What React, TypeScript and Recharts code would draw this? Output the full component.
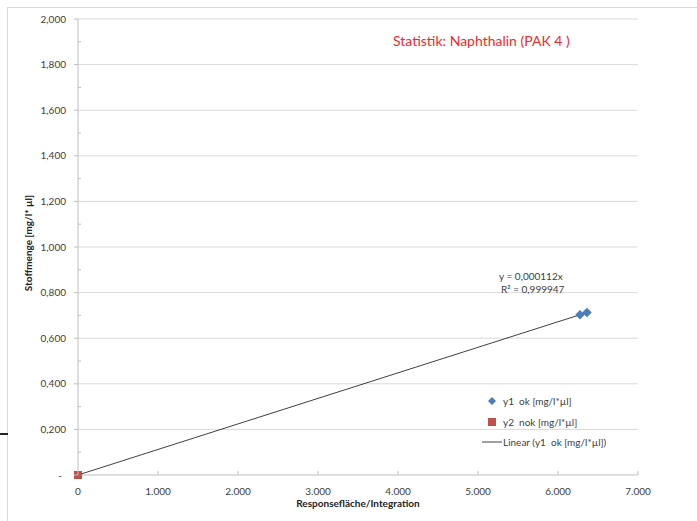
import React from 'react'
import { ScatterChart, Scatter, XAxis, YAxis, ReferenceLine, Legend } from 'recharts'

// values
const okX = [6275, 6362]
const okY = [0.703, 0.713]
const nokX = [0]
const nokY = [0]
const trendX = [0, 6362]
const trendY = [0, 0.7126]

const xTicks = [0, 1000, 2000, 3000, 4000, 5000, 6000, 7000]
const xTickLabels = ['0', '1.000', '2.000', '3.000', '4.000', '5.000', '6.000', '7.000']
const yMajorTicks = [0, 0.2, 0.4, 0.6, 0.8, 1.0, 1.2, 1.4, 1.6, 1.8, 2.0]
const yMinorTicks = [0.1, 0.3, 0.5, 0.7, 0.9, 1.1, 1.3, 1.5, 1.7, 1.9]
const yTickLabels = ['-', '0,200', '0,400', '0,600', '0,800', '1,000', '1,200', '1,400', '1,600', '1,800', '2,000']

const seriesNames = ['y1  ok [mg/l*µl]', 'y2  nok [mg/l*µl]', 'Linear (y1  ok [mg/l*µl])']

const okData = okX.map((x, i) => ({ x, y: okY[i] }))
const nokData = nokX.map((x, i) => ({ x, y: nokY[i] }))
const trendData = trendX.map((x, i) => ({ x, y: trendY[i] }))
const yTicks = [...yMajorTicks, ...yMinorTicks].sort((a, b) => a - b)

const BLUE = '#4a7ebb'
const RED = '#c0504d'
const GRID = '#d9d9d9'
const AXIS = '#bfbfbf'
const TEXT = '#404040'
const FONT = 'Lato, "Open Sans", sans-serif'

const Diamond = (props: any) => {
  const { cx, cy } = props
  const r = 4.8
  return <polygon points={`${cx},${cy - r} ${cx + r},${cy} ${cx},${cy + r} ${cx - r},${cy}`} fill={BLUE} />
}

const Square = (props: any) => {
  const { cx, cy } = props
  return <rect x={cx - 4} y={cy - 4} width={8} height={8} fill={RED} />
}

const NoShape = () => <g />

const YTick = (props: any) => {
  const { x, y, payload } = props
  const idx = yMajorTicks.findIndex((v) => Math.abs(v - payload.value) < 1e-9)
  if (idx < 0) {
    return <line x1={x} x2={x + 3} y1={y} y2={y} stroke={AXIS} />
  }
  return (
    <g>
      <line x1={x - 4} x2={x} y1={y} y2={y} stroke={AXIS} />
      <text
        x={idx === 0 ? x - 16 : x - 12}
        y={y}
        dy={3.5}
        textAnchor="end"
        fontSize={10}
        fill={TEXT}
        fontFamily={FONT}
      >
        {yTickLabels[idx]}
      </text>
    </g>
  )
}

const XTick = (props: any) => {
  const { x, y, payload } = props
  const idx = xTicks.indexOf(payload.value)
  return (
    <g>
      <line x1={x} x2={x} y1={y - 4} y2={y} stroke={AXIS} />
      <text x={x} y={y + 20} textAnchor="middle" fontSize={10} fill={TEXT} fontFamily={FONT}>
        {xTickLabels[idx]}
      </text>
    </g>
  )
}

const renderLegend = (props: any) => {
  const { payload = [] } = props
  const items = [...payload].sort((a: any, b: any) => seriesNames.indexOf(a.value) - seriesNames.indexOf(b.value))
  return (
    <div style={{ fontFamily: FONT, fontSize: 10, color: TEXT }}>
      {items.map((entry: any, i: number) => (
        <div key={i} style={{ display: 'flex', alignItems: 'center', height: 20.5 }}>
          <svg width={28} height={10} style={{ marginRight: 1 }}>
            {entry.type === 'diamond' && <polygon points="18,1 22,5 18,9 14,5" fill={BLUE} />}
            {entry.type === 'square' && <rect x={14} y={1} width={8} height={8} fill={RED} />}
            {entry.type === 'line' && <line x1={8} x2={28} y1={5} y2={5} stroke={TEXT} strokeWidth={1} />}
          </svg>
          <span style={{ whiteSpace: 'pre' }}>{entry.value}</span>
        </div>
      ))}
    </div>
  )
}

export default function App() {
  return (
    <div
      style={{
        position: 'absolute',
        left: 0,
        top: 0,
        width: 697,
        height: 521,
        background: '#fff',
        fontFamily: FONT,
        overflow: 'hidden',
      }}
    >
      <div
        style={{
          position: 'absolute',
          left: 7,
          top: 7,
          right: 0,
          bottom: 0,
          borderLeft: `1px solid ${GRID}`,
          borderTop: `1px solid ${GRID}`,
        }}
      />
      <div style={{ position: 'absolute', left: 0, top: 433, width: 8, height: 2, background: '#222' }} />

      <div style={{ position: 'absolute', left: 0, top: 0 }}>
        <ScatterChart width={697} height={521} margin={{ top: 19, right: 59, bottom: 16, left: 18 }}>
          <XAxis
            type="number"
            dataKey="x"
            domain={[0, 7000]}
            ticks={xTicks}
            interval={0}
            height={30}
            tickSize={0}
            tickMargin={0}
            tick={<XTick />}
            axisLine={{ stroke: AXIS }}
          />
          <YAxis
            type="number"
            dataKey="y"
            domain={[0, 2]}
            ticks={yTicks}
            interval={0}
            width={60}
            tickSize={0}
            tickMargin={0}
            tick={<YTick />}
            axisLine={{ stroke: AXIS }}
          />
          {yMajorTicks.slice(1).map((v) => (
            <ReferenceLine key={v} y={v} stroke={GRID} strokeWidth={1} />
          ))}
          <Scatter
            name={seriesNames[2]}
            data={trendData}
            fill={TEXT}
            line={{ stroke: TEXT, strokeWidth: 1 }}
            shape={<NoShape />}
            legendType="line"
            isAnimationActive={false}
          />
          <Scatter
            name={seriesNames[0]}
            data={okData}
            fill={BLUE}
            shape={<Diamond />}
            legendType="diamond"
            isAnimationActive={false}
          />
          <Scatter
            name={seriesNames[1]}
            data={nokData}
            fill={RED}
            shape={<Square />}
            legendType="square"
            isAnimationActive={false}
          />
          <Legend
            layout="vertical"
            align="center"
            verticalAlign="middle"
            content={renderLegend}
            wrapperStyle={{ left: 474, top: 391, width: 170 }}
          />
        </ScatterChart>
      </div>

      <div
        style={{
          position: 'absolute',
          left: 393,
          top: 32,
          fontSize: 14,
          lineHeight: '17px',
          color: '#ee2a2a',
          whiteSpace: 'nowrap',
        }}
      >
        Statistik: Naphthalin (PAK 4 )
      </div>

      <div
        style={{
          position: 'absolute',
          left: 499,
          top: 270,
          fontSize: 10,
          lineHeight: '12.5px',
          color: TEXT,
          whiteSpace: 'nowrap',
        }}
      >
        <div>y = 0,000112x</div>
        <div style={{ marginLeft: 2 }}>R² = 0,999947</div>
      </div>

      <div
        style={{
          position: 'absolute',
          left: 28,
          top: 243,
          transform: 'translate(-50%, -50%) rotate(-90deg)',
          fontSize: 10,
          fontWeight: 'bold',
          color: '#222',
          whiteSpace: 'nowrap',
        }}
      >
        Stoffmenge [mg/l* µl]
      </div>

      <div
        style={{
          position: 'absolute',
          left: 358,
          top: 503,
          transform: 'translate(-50%, -50%)',
          fontSize: 10,
          fontWeight: 'bold',
          color: '#222',
          whiteSpace: 'nowrap',
        }}
      >
        Responsefläche/Integration
      </div>
    </div>
  )
}
